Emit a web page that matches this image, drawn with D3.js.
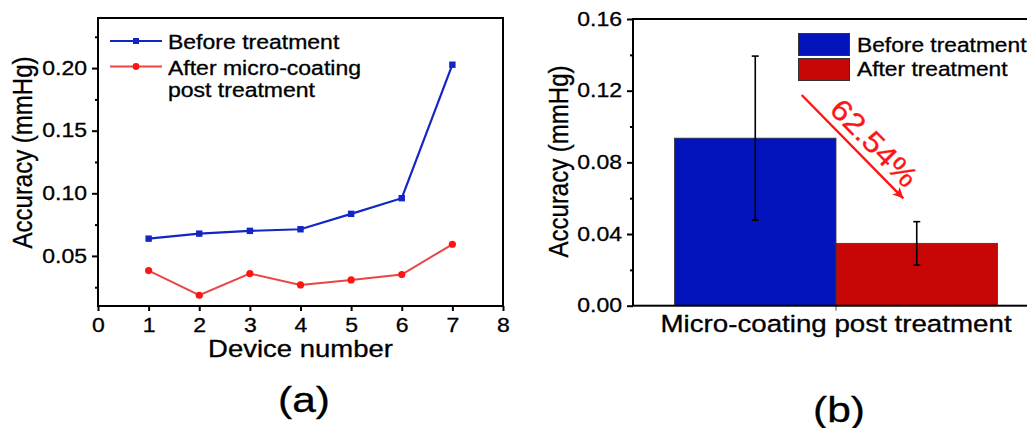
<!DOCTYPE html>
<html>
<head>
<meta charset="utf-8">
<script src="https://cdn.jsdelivr.net/npm/d3@7"></script>
<style>
  body { margin: 0; background: #fff; }
  text { font-family: "Liberation Sans", Arial, sans-serif; fill: #000; stroke: #000; stroke-width: 0.3px; }
</style>
</head>
<body>
<div id="viz_container"></div>
<script>
// data, panel (a)
const devices = [1, 2, 3, 4, 5, 6, 7];
const beforeAcc = [0.0638, 0.0678, 0.0700, 0.0713, 0.0836, 0.0961, 0.2027];
const afterAcc = [0.0383, 0.0186, 0.0359, 0.0268, 0.0308, 0.0351, 0.0593];
const xTicksA = [0, 1, 2, 3, 4, 5, 6, 7, 8];
const yTicksA = [0.05, 0.10, 0.15, 0.20];
const yMinorA = [0.025, 0.075, 0.125, 0.175, 0.225];
const legendA = [["Before treatment"], ["After micro-coating", "post treatment"]];

// data, panel (b)
const barCategory = "Micro-coating post treatment";
const barGroups = ["Before treatment", "After treatment"];
const barMeans = [0.0935, 0.0348];
const barErrors = [0.0458, 0.0121];
const yTicksB = [0, 0.04, 0.08, 0.12, 0.16];
const yMinorB = [0.02, 0.06, 0.10, 0.14];
const reductionLabel = "62.54%";

const SX = 1.18; // the figure is a bit wider than tall, text too
const blueLine = "#1226c4", redLine = "#ea4444", redDot = "#ff1414";
const blueBar = "#0414bc", redBar = "#c80606";

const svg = d3.select("#viz_container")
    .append("svg")
    .attr("width", 1027)
    .attr("height", 428);

svg.append("defs").append("marker")
    .attr("id", "head")
    .attr("viewBox", "0 0 10 10")
    .attr("refX", 10).attr("refY", 5)
    .attr("markerWidth", 5).attr("markerHeight", 4.4)
    .attr("markerUnits", "strokeWidth")
    .attr("orient", "auto")
    .append("path").attr("d", "M0,0 L10,5 L0,10 L2.5,5 Z").attr("fill", redDot);

// stretch axis tick text around its own x
function stretchTicks(g, size) {
    g.selectAll("text")
        .style("font-size", size + "px")
        .attr("transform", function () {
            const x = +this.getAttribute("x") || 0;
            return `translate(${x * (1 - SX)},0) scale(${SX},1)`;
        });
}

function label(g, txt, x, y, size, anchor, rot) {
    return g.append("text")
        .attr("transform", `translate(${x},${y}) scale(${SX},1)` + (rot ? ` rotate(${rot})` : ""))
        .attr("text-anchor", anchor)
        .style("font-size", size + "px")
        .text(txt);
}

function styleAxis(g) {
    g.selectAll("line").attr("stroke", "#000").attr("stroke-width", 2);
    g.select(".domain").remove();
}

// ---------------- panel (a) ----------------
const gA = svg.append("g");
const xA = d3.scaleLinear().domain([0, 8]).range([98, 503]);
const yA = d3.scaleLinear().domain([0.01, 0.24]).range([306, 18]);

gA.append("g")
    .attr("transform", "translate(0,306)")
    .call(d3.axisBottom(xA).tickValues(xTicksA).tickFormat(d3.format("d")).tickSize(5).tickPadding(7))
    .call(styleAxis)
    .call(g => stretchTicks(g, 19.5));

gA.append("g")
    .attr("transform", "translate(98,0)")
    .call(d3.axisLeft(yA).tickValues(yTicksA).tickFormat(d3.format(".2f")).tickSize(6).tickPadding(5))
    .call(styleAxis)
    .call(g => stretchTicks(g, 19.5));

gA.append("g")
    .attr("transform", "translate(98,0)")
    .call(d3.axisLeft(yA).tickValues(yMinorA).tickFormat("").tickSize(3))
    .call(styleAxis);

gA.append("rect")
    .attr("x", xA(0)).attr("y", yA(0.24))
    .attr("width", xA(8) - xA(0)).attr("height", yA(0.01) - yA(0.24))
    .attr("fill", "none").attr("stroke", "#000").attr("stroke-width", 2);

const lineA = d3.line().x((d, i) => xA(devices[i])).y(d => yA(d));

gA.append("path").datum(afterAcc)
    .attr("d", lineA).attr("fill", "none").attr("stroke", redLine).attr("stroke-width", 2);
gA.selectAll(".dotA").data(afterAcc).join("circle")
    .attr("cx", (d, i) => xA(devices[i])).attr("cy", d => yA(d)).attr("r", 3.6).attr("fill", redDot);

gA.append("path").datum(beforeAcc)
    .attr("d", lineA).attr("fill", "none").attr("stroke", blueLine).attr("stroke-width", 2.2);
gA.selectAll(".sqA").data(beforeAcc).join("rect")
    .attr("x", (d, i) => xA(devices[i]) - 3.2).attr("y", d => yA(d) - 3.2)
    .attr("width", 6.4).attr("height", 6.4).attr("fill", blueLine);

// legend (a)
const legA = gA.append("g");
[[blueLine, 41], [redLine, 66.5]].forEach(([c, y], i) => {
    legA.append("line").attr("x1", 110).attr("x2", 162).attr("y1", y).attr("y2", y)
        .attr("stroke", c).attr("stroke-width", 2.2);
    if (i === 0) legA.append("rect").attr("x", 133).attr("y", y - 3).attr("width", 6).attr("height", 6).attr("fill", c);
    else legA.append("circle").attr("cx", 136).attr("cy", y).attr("r", 3.4).attr("fill", redDot);
});
label(legA, legendA[0][0], 168, 48.5, 19.5, "start");
label(legA, legendA[1][0], 168, 74.5, 19.5, "start");
label(legA, legendA[1][1], 168, 97, 19.5, "start");

label(gA, "Device number", 300.5, 357, 23.3, "middle");
label(gA, "Accuracy (mmHg)", 32, 152.5, 24, "middle", -90);
label(gA, "(a)", 304, 412, 36, "middle");

// ---------------- panel (b) ----------------
const gB = svg.append("g");
const x0 = d3.scaleBand().domain([barCategory]).range([633, 1039]).paddingInner(0).paddingOuter(0.1285);
const x1 = d3.scaleBand().domain(barGroups).range([0, x0.bandwidth()]);
const yB = d3.scaleLinear().domain([0, 0.16]).range([305.7, 19]);
const colorB = d3.scaleOrdinal().domain(barGroups).range([blueBar, redBar]);

gB.append("g").selectAll("rect")
    .data(barGroups)
    .join("rect")
    .attr("x", d => x0(barCategory) + x1(d))
    .attr("y", (d, i) => yB(barMeans[i]))
    .attr("width", x1.bandwidth())
    .attr("height", (d, i) => yB(0) - yB(barMeans[i]))
    .attr("fill", d => colorB(d))
    .attr("stroke", "#333").attr("stroke-width", 0.8);

// error bars
const errG = gB.append("g").attr("stroke", "#000").attr("stroke-width", 1.6);
barGroups.forEach((d, i) => {
    const cx = x0(barCategory) + x1(d) + x1.bandwidth() / 2;
    const top = yB(barMeans[i] + barErrors[i]), bot = yB(barMeans[i] - barErrors[i]);
    errG.append("line").attr("x1", cx).attr("x2", cx).attr("y1", top).attr("y2", bot);
    errG.append("line").attr("x1", cx - 3.5).attr("x2", cx + 3.5).attr("y1", top).attr("y2", top);
    errG.append("line").attr("x1", cx - 3.5).attr("x2", cx + 3.5).attr("y1", bot).attr("y2", bot);
});

gB.append("g")
    .attr("transform", "translate(633,0)")
    .call(d3.axisLeft(yB).tickValues(yTicksB).tickFormat(d3.format(".2f")).tickSize(6).tickPadding(5))
    .call(styleAxis)
    .call(g => stretchTicks(g, 19.5));

gB.append("g")
    .attr("transform", "translate(633,0)")
    .call(d3.axisLeft(yB).tickValues(yMinorB).tickFormat("").tickSize(3))
    .call(styleAxis);

gB.append("g")
    .attr("transform", "translate(0,305.7)")
    .call(d3.axisBottom(x0).tickSize(5).tickPadding(5))
    .call(g => g.selectAll("line").attr("stroke", "#555").attr("stroke-width", 1))
    .call(g => g.select(".domain").remove())
    .call(g => stretchTicks(g, 23.5));

gB.append("rect")
    .attr("x", 633).attr("y", yB(0.16))
    .attr("width", 1039 - 633).attr("height", yB(0) - yB(0.16))
    .attr("fill", "none").attr("stroke", "#000").attr("stroke-width", 2);

// legend (b)
const legB = gB.append("g");
barGroups.forEach((d, i) => {
    legB.append("rect")
        .attr("x", 798.5).attr("y", 33.5 + i * 25)
        .attr("width", 51).attr("height", 22)
        .attr("fill", colorB(d)).attr("stroke", "#333").attr("stroke-width", 1);
    label(legB, d, 857, 51.5 + i * 24, 19.3, "start");
});

// reduction arrow
gB.append("line")
    .attr("x1", 801.7).attr("y1", 95).attr("x2", 903.3).attr("y2", 198.3)
    .attr("stroke", redDot).attr("stroke-width", 2.4)
    .attr("marker-end", "url(#head)");
gB.append("text")
    .attr("transform", "translate(828.3,110.9) rotate(45.5) scale(1.1,1)")
    .style("font-size", "29.5px")
    .style("fill", redDot)
    .style("stroke", redDot)
    .text(reductionLabel);

label(gB, "Accuracy (mmHg)", 568, 161.5, 24, "middle", -90);
label(gB, "(b)", 839, 422, 36, "middle");
</script>
</body>
</html>
